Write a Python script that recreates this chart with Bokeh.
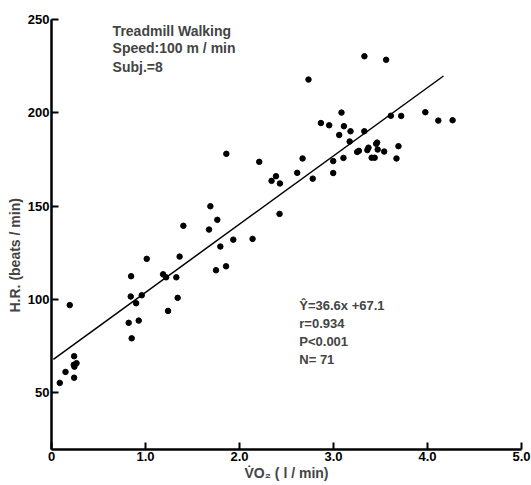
from bokeh.plotting import figure
from bokeh.models import Range1d, Label, FixedTicker, Title
from bokeh.embed import file_html
from bokeh.resources import INLINE

# VO2 (l/min) and heart rate (beats/min)
vo2 = [0.088, 0.149, 0.194, 0.241, 0.237, 0.266, 0.244, 0.241,
       0.821, 0.847, 0.843, 0.853, 0.900, 0.928, 0.960, 1.013,
       1.187, 1.219, 1.240, 1.328, 1.342, 1.363, 1.860, 2.210,
       2.341, 2.388, 2.430, 1.690, 1.764, 1.403, 1.676, 2.426,
       1.934, 2.139, 1.796, 1.750, 1.857, 2.734, 3.329, 3.560,
       3.085, 2.866, 2.954, 3.111, 3.181, 3.328, 3.061, 3.172,
       3.610, 3.720, 3.977, 4.115, 4.267, 2.671, 2.614, 2.779,
       2.997, 2.997, 3.106, 3.252, 3.270, 3.360, 3.372, 3.454,
       3.464, 3.470, 3.539, 3.406, 3.438, 3.670, 3.691]
hr = [55.2, 61.1, 96.9, 69.5, 64.9, 65.8, 63.9, 58.0,
      87.4, 112.4, 101.5, 79.1, 97.9, 88.6, 102.2, 121.7,
      113.4, 111.8, 93.8, 111.8, 100.8, 122.9, 178.0, 173.7,
      163.5, 166.0, 162.1, 149.9, 142.6, 139.4, 137.4, 145.8,
      132.0, 132.4, 128.3, 115.6, 117.7, 217.8, 230.3, 228.4,
      200.1, 194.5, 193.3, 192.8, 190.1, 190.1, 188.1, 184.6,
      198.4, 198.3, 200.3, 195.8, 196.0, 175.5, 167.8, 164.7,
      174.1, 167.7, 175.8, 179.0, 179.6, 180.0, 181.3, 183.4,
      184.0, 180.3, 179.2, 175.9, 175.9, 175.5, 182.1]

slope = 36.6
intercept = 67.1
fit_x = [0.02, 4.17]
fit_y = [slope * v + intercept for v in fit_x]

x_ticks = [0, 1, 2, 3, 4, 5]
x_tick_labels = ["0", "1.0", "2.0", "3.0", "4.0", "5.0"]
y_ticks = [50, 100, 150, 200, 250]

info_lines = ["Treadmill Walking", "Speed:100 m / min", "Subj.=8"]
stat_lines = ["Ŷ=36.6x +67.1", " r=0.934", "P<0.001", "N= 71"]

FONT = "Liberation Sans"

p = figure(width=531, height=485, output_backend="svg", toolbar_location=None,
           x_range=Range1d(0, 5), y_range=Range1d(19.5, 250),
           min_border_left=51, min_border_right=10,
           min_border_top=19, min_border_bottom=36)
p.outline_line_color = None
p.grid.visible = False
p.background_fill_color = "white"
p.border_fill_color = "white"

for ax in (p.xaxis[0], p.yaxis[0]):
    ax.axis_line_width = 2.5
    ax.axis_line_color = "black"
    ax.major_tick_in = 7
    ax.major_tick_out = 0
    ax.major_tick_line_width = 2
    ax.minor_tick_line_color = None
    ax.major_label_text_font = FONT
    ax.major_label_text_font_style = "bold"
    ax.major_label_text_font_size = "13px"
    ax.major_label_text_color = "black"
    ax.major_label_standoff = 2

p.xaxis[0].ticker = FixedTicker(ticks=x_ticks)
p.xaxis[0].major_label_overrides = {t: l for t, l in zip(x_ticks, x_tick_labels)}
p.yaxis[0].ticker = FixedTicker(ticks=y_ticks)

p.xaxis[0].axis_label = "V̇O₂ ( l / min)"
p.xaxis[0].axis_label_text_font = FONT
p.xaxis[0].axis_label_text_font_style = "bold"
p.xaxis[0].axis_label_text_font_size = "14px"
p.xaxis[0].axis_label_standoff = 1

# y axis title, set a little below the frame's middle as in the original
ytitle = Title(text="H.R. (beats / min)", align="left", offset=137, standoff=3,
               text_font=FONT, text_font_style="bold", text_font_size="14px")
p.add_layout(ytitle, "left")

p.line(fit_x, fit_y, line_color="black", line_width=1.5)
p.scatter(vo2, hr, size=5.5, color="black")

info_y = [244.1, 234.5, 224.8]
for t, yy in zip(info_lines, info_y):
    p.add_layout(Label(x=0.65, y=yy, text=t, text_align="left", text_baseline="alphabetic",
                       text_font=FONT, text_font_style="bold", text_font_size="14px"))

stat_y = [96.6, 87.0, 77.3, 67.7]
for t, yy in zip(stat_lines, stat_y):
    p.add_layout(Label(x=2.636, y=yy, text=t, text_align="left", text_baseline="alphabetic",
                       text_font=FONT, text_font_style="bold", text_font_size="13px"))

open("out.html", "w").write(file_html(p, INLINE))
